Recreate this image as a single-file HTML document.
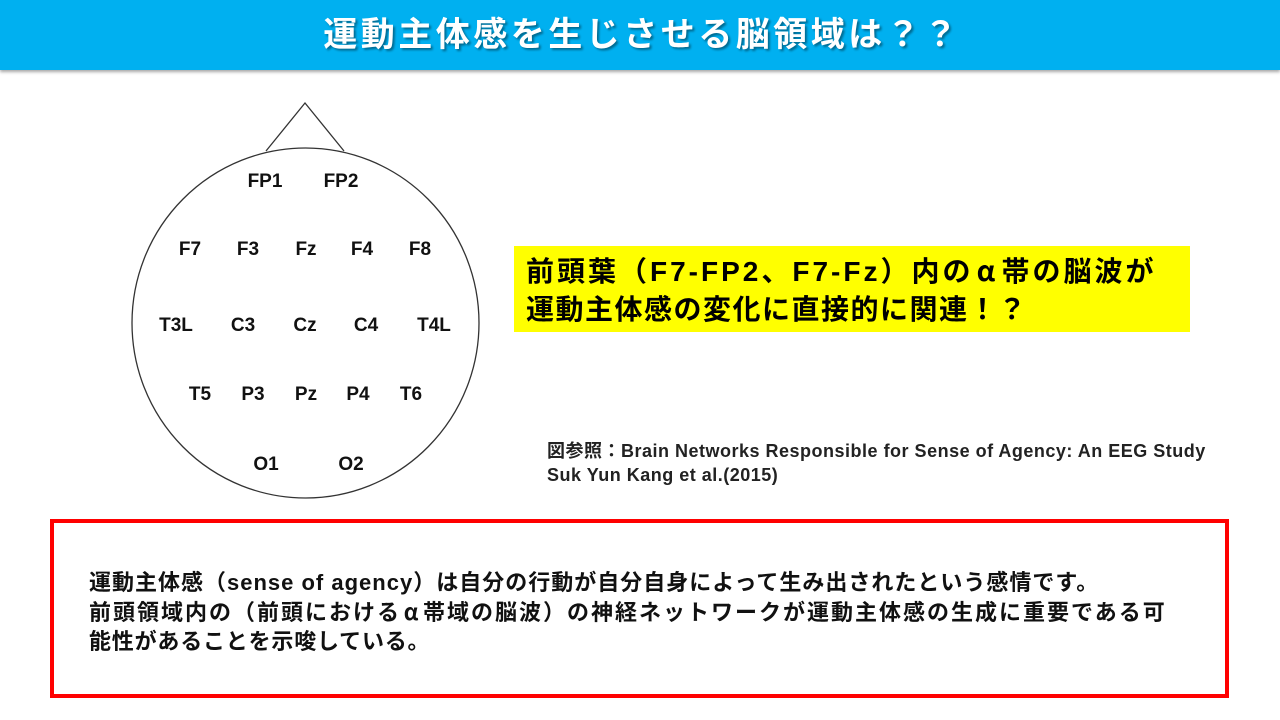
<!DOCTYPE html>
<html><head><meta charset="utf-8"><style>
body{margin:0;width:1280px;height:720px;background:#fff;position:relative;overflow:hidden;font-family:"Liberation Sans","Noto Sans CJK JP",sans-serif}
.hdr{position:absolute;left:0;top:0;width:1280px;height:70px;background:#00b0f0;box-shadow:0 2px 3px rgba(0,0,0,.35)}
.hdr div{position:absolute;left:0;right:0;top:12px;text-align:center;color:#fff;font-size:34px;letter-spacing:3.5px;font-weight:bold;line-height:46px;text-shadow:2px 2px 2px rgba(0,0,0,.4);padding-left:4px}
.lbl{position:absolute;font-weight:bold;font-size:19px;color:#111;transform:translate(-50%,-50%);white-space:nowrap}
.yel{position:absolute;left:514px;top:246px;width:676px;height:86px;background:#ffff00;font-weight:bold;font-size:28px;letter-spacing:1.5px;line-height:38px;box-sizing:border-box;padding:5px 0 0 12px;color:#000;white-space:nowrap}
.ref{position:absolute;left:547px;top:439px;font-size:18px;letter-spacing:0.5px;line-height:24px;font-weight:bold;color:#222;white-space:nowrap}
.red{position:absolute;left:50px;top:519px;width:1179px;height:179px;border:4px solid #ff0000;box-sizing:border-box}
.red div{position:absolute;left:35px;top:45px;font-size:22px;letter-spacing:0.8px;line-height:29px;font-weight:bold;color:#111;white-space:nowrap}
.a{display:inline-block;width:1em;text-align:center;font-family:"Noto Sans CJK JP",sans-serif}
</style></head><body>
<div class="hdr"><div>運動主体感を生じさせる脳領域は？？</div></div>
<svg style="position:absolute;left:0;top:0" width="640" height="520">
<polyline points="266,151 305,103 344,151" fill="none" stroke="#333" stroke-width="1.3"/>
<ellipse cx="305.5" cy="323" rx="173.5" ry="175" fill="#fff" stroke="#333" stroke-width="1.3"/>
</svg>
<div class="lbl" style="left:265px;top:182px">FP1</div>
<div class="lbl" style="left:341px;top:182px">FP2</div>
<div class="lbl" style="left:190px;top:250px">F7</div>
<div class="lbl" style="left:248px;top:250px">F3</div>
<div class="lbl" style="left:306px;top:250px">Fz</div>
<div class="lbl" style="left:362px;top:250px">F4</div>
<div class="lbl" style="left:420px;top:250px">F8</div>
<div class="lbl" style="left:176px;top:326px">T3L</div>
<div class="lbl" style="left:243px;top:326px">C3</div>
<div class="lbl" style="left:305px;top:326px">Cz</div>
<div class="lbl" style="left:366px;top:326px">C4</div>
<div class="lbl" style="left:434px;top:326px">T4L</div>
<div class="lbl" style="left:200px;top:395px">T5</div>
<div class="lbl" style="left:253px;top:395px">P3</div>
<div class="lbl" style="left:306px;top:395px">Pz</div>
<div class="lbl" style="left:358px;top:395px">P4</div>
<div class="lbl" style="left:411px;top:395px">T6</div>
<div class="lbl" style="left:266px;top:465px">O1</div>
<div class="lbl" style="left:351px;top:465px">O2</div>
<div class="yel"><span style="letter-spacing:3px">前頭葉（F7-FP2、F7-Fz）内の<span class="a">α</span>帯の脳波が</span><br>運動主体感の変化に直接的に関連！？</div>
<div class="ref">図参照：Brain Networks Responsible for Sense of Agency: An EEG Study<br>Suk Yun Kang et al.(2015)</div>
<div class="red"><div><span style="letter-spacing:1px">運動主体感（sense of agency）は自分の行動が自分自身によって生み出されたという感情です。</span><br><span style="letter-spacing:2px">前頭領域内の（前頭における<span class="a">α</span>帯域の脳波）の神経ネットワークが運動主体感の生成に重要である可</span><br>能性があることを示唆している。</div></div>
</body></html>
